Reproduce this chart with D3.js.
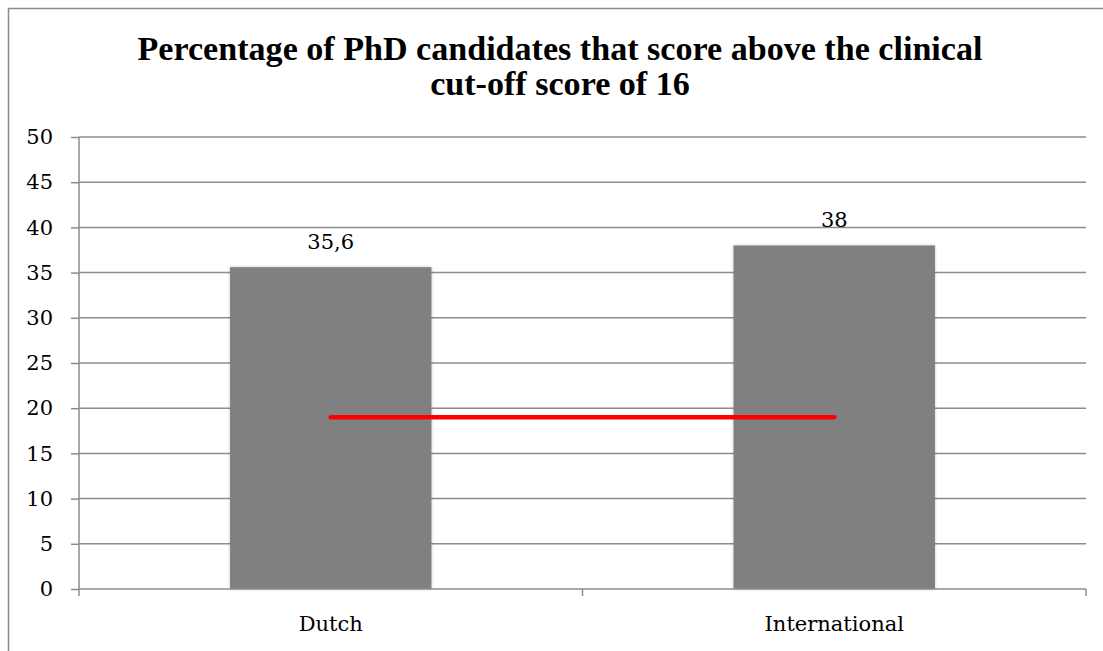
<!DOCTYPE html>
<html>
<head>
<meta charset="utf-8">
<script src="https://cdn.jsdelivr.net/npm/d3@7"></script>
<style>
  html, body { margin: 0; padding: 0; background: #fff; }
  svg { display: block; }
  text { font-family: "DejaVu Serif", serif; fill: #000; }
</style>
</head>
<body>
<script>
// Chart data
const categories = ["Dutch", "International"];
const values = [35.6, 38];
const valueLabels = ["35,6", "38"];
const cutoffLine = [19, 19];
const yTicks = [0, 5, 10, 15, 20, 25, 30, 35, 40, 45, 50];
const titleLines = [
  "Percentage of PhD candidates that score above the clinical",
  "cut-off score of 16"
];

const W = 1103, H = 651;
const margin = { left: 79, right: 1086, top: 137, bottom: 589 };

const svg = d3.select("body").append("svg")
  .attr("width", W).attr("height", H);

// soft shadow used under the bars
const defs = svg.append("defs");
const f = defs.append("filter").attr("id", "barShadow")
  .attr("x", "-5%").attr("y", "-5%").attr("width", "110%").attr("height", "110%");
f.append("feDropShadow").attr("dx", 0).attr("dy", 0).attr("stdDeviation", 1.6)
  .attr("flood-color", "#000").attr("flood-opacity", 0.25);

// outer chart frame (top and left edges visible)
svg.append("path")
  .attr("d", `M8.5,${H} L8.5,8.5 L${W},8.5`)
  .attr("fill", "none").attr("stroke", "#8a8a8a").attr("stroke-width", 1.5);

const x = d3.scaleBand().domain(categories)
  .range([margin.left, margin.right]).paddingInner(0).paddingOuter(0);
const y = d3.scaleLinear().domain([0, 50]).range([margin.bottom, margin.top]);

// horizontal gridlines
svg.append("g").selectAll("line").data(yTicks.filter(d => d > 0)).join("line")
  .attr("x1", margin.left).attr("x2", margin.right)
  .attr("y1", d => y(d)).attr("y2", d => y(d))
  .attr("stroke", "#8c8c8c").attr("stroke-width", 1.5);

// y axis
const yAxis = svg.append("g").attr("transform", `translate(${margin.left},0)`)
  .call(d3.axisLeft(y).tickValues(yTicks).tickSize(8).tickPadding(18));
yAxis.select(".domain").attr("stroke", "#8c8c8c").attr("stroke-width", 1.5)
  .attr("d", `M0,${margin.top}V${margin.bottom + 7}`);
yAxis.selectAll(".tick line").attr("stroke", "#8c8c8c").attr("stroke-width", 1.5);
yAxis.selectAll(".tick text")
  .style("font-family", "'DejaVu Serif', serif").style("font-size", "21px")
  .attr("fill", "#000");

// bars
const bw = x.bandwidth() * 0.4;
svg.append("g").selectAll("rect").data(categories).join("rect")
  .attr("x", d => x(d) + x.bandwidth() / 2 - bw / 2)
  .attr("width", bw)
  .attr("y", (d, i) => y(values[i]))
  .attr("height", (d, i) => y(0) - y(values[i]))
  .attr("fill", "#808080")
  .attr("filter", "url(#barShadow)");

// x axis baseline with category tick marks
const xAxisG = svg.append("g");
xAxisG.append("line")
  .attr("x1", margin.left).attr("x2", margin.right)
  .attr("y1", y(0)).attr("y2", y(0))
  .attr("stroke", "#8c8c8c").attr("stroke-width", 1.5);
const bounds = categories.map(c => x(c)).concat([margin.right]);
xAxisG.selectAll("line.t").data(bounds.slice(1)).join("line").attr("class", "t")
  .attr("x1", d => d).attr("x2", d => d)
  .attr("y1", y(0)).attr("y2", y(0) + 7)
  .attr("stroke", "#8c8c8c").attr("stroke-width", 1.5);

// category labels
svg.append("g").selectAll("text").data(categories).join("text")
  .attr("x", d => x(d) + x.bandwidth() / 2)
  .attr("y", 631)
  .attr("text-anchor", "middle")
  .style("font-size", "21px")
  .text(d => d);

// value labels
svg.append("g").selectAll("text").data(categories).join("text")
  .attr("x", d => x(d) + x.bandwidth() / 2)
  .attr("y", (d, i) => y(values[i]) - 18)
  .attr("text-anchor", "middle")
  .style("font-size", "21px")
  .text((d, i) => valueLabels[i]);

// cut-off reference line between the two bar centres
const line = d3.line()
  .x((d, i) => x(categories[i]) + x.bandwidth() / 2)
  .y(d => y(d));
svg.append("path").datum(cutoffLine)
  .attr("d", line)
  .attr("fill", "none").attr("stroke", "#ff0000")
  .attr("stroke-width", 4.5).attr("stroke-linecap", "round");

// title
const title = svg.append("g");
title.selectAll("text").data(titleLines).join("text")
  .attr("x", 560)
  .attr("y", (d, i) => 60 + i * 35)
  .attr("text-anchor", "middle")
  .style("font-family", "'Liberation Serif', serif")
  .style("font-weight", "bold")
  .style("font-size", "30px")
  .text(d => d);
// fit the first title line to its intended width
const t0 = title.select("text").node();
const len = t0.getComputedTextLength();
const fs = 30 * 845 / len;
title.selectAll("text").style("font-size", fs + "px");
</script>
</body>
</html>
